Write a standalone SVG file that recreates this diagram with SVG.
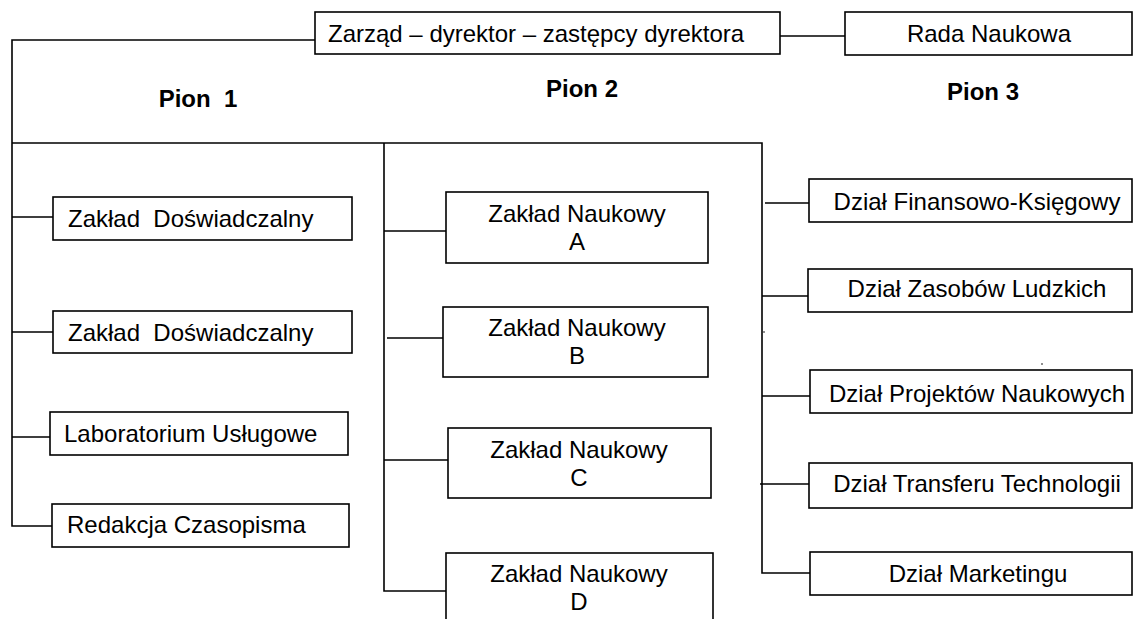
<svg xmlns="http://www.w3.org/2000/svg" width="1133" height="619" viewBox="0 0 1133 619">
<style>
.box{fill:#fff;stroke:#000;stroke-width:1.6}
.ln{fill:none;stroke:#000;stroke-width:1.6}
text{font-family:"Liberation Sans",Arial,sans-serif;font-size:24px;fill:#000}
.c{text-anchor:middle}
.b{font-weight:bold}
</style>
<rect width="1133" height="619" fill="#fff"/>
<g id="connectors">
<path class="ln" d="M315 40H12V526H52"/>
<path class="ln" d="M780 36H845"/>
<path class="ln" d="M12 143H762V573H810"/>
<path class="ln" d="M384 143V591H446"/>
<path class="ln" d="M12 217H53M12 332H53M12 437H50"/>
<path class="ln" d="M384 231H446M387 338H443M384 460H448"/>
<path class="ln" d="M765 203H809M762 296H808M762 396H810M760 484H809"/>
<circle cx="764" cy="332" r="0.8" fill="#000"/>
<circle cx="1042" cy="364" r="0.8" fill="#000"/>
</g>
<g id="zarzad"><rect class="box" x="315" y="12" width="465" height="42"/><text x="328" y="42">Zarząd – dyrektor – zastępcy dyrektora</text></g>
<g id="rada"><rect class="box" x="845" y="12" width="287" height="43"/><text class="c" x="989" y="42">Rada Naukowa</text></g>
<g id="pion1"><text class="c b" x="198" y="107" xml:space="preserve">Pion  1</text></g>
<g id="pion2"><text class="c b" x="582" y="97">Pion 2</text></g>
<g id="pion3"><text class="c b" x="983" y="100">Pion 3</text></g>
<g id="zd1"><rect class="box" x="53" y="197" width="299" height="43"/><text x="68" y="227" xml:space="preserve">Zakład  Doświadczalny</text></g>
<g id="zd2"><rect class="box" x="53" y="311" width="299" height="42"/><text x="68" y="341" xml:space="preserve">Zakład  Doświadczalny</text></g>
<g id="lab"><rect class="box" x="50" y="412" width="298" height="43"/><text x="64" y="442">Laboratorium Usługowe</text></g>
<g id="red"><rect class="box" x="52" y="504" width="297" height="43"/><text x="67" y="533">Redakcja Czasopisma</text></g>
<g id="zna"><rect class="box" x="446" y="192" width="262" height="71"/><text class="c" x="577" y="222">Zakład Naukowy</text><text class="c" x="577" y="250">A</text></g>
<g id="znb"><rect class="box" x="443" y="307" width="265" height="70"/><text class="c" x="577" y="336">Zakład Naukowy</text><text class="c" x="577" y="364">B</text></g>
<g id="znc"><rect class="box" x="448" y="428" width="263" height="70"/><text class="c" x="579" y="458">Zakład Naukowy</text><text class="c" x="579" y="486">C</text></g>
<g id="znd"><rect class="box" x="446" y="553" width="267" height="80"/><text class="c" x="579" y="582">Zakład Naukowy</text><text class="c" x="579" y="610">D</text></g>
<g id="dfk"><rect class="box" x="809" y="179" width="323" height="43"/><text class="c" x="977" y="210">Dział Finansowo-Księgowy</text></g>
<g id="dzl"><rect class="box" x="808" y="269" width="324" height="43"/><text class="c" x="977" y="297">Dział Zasobów Ludzkich</text></g>
<g id="dpn"><rect class="box" x="810" y="370" width="322" height="43"/><text class="c" x="977" y="402">Dział Projektów Naukowych</text></g>
<g id="dtt"><rect class="box" x="809" y="463" width="323" height="45"/><text class="c" x="977" y="492">Dział Transferu Technologii</text></g>
<g id="dm"><rect class="box" x="810" y="552" width="322" height="43"/><text class="c" x="978" y="582">Dział Marketingu</text></g>
</svg>
